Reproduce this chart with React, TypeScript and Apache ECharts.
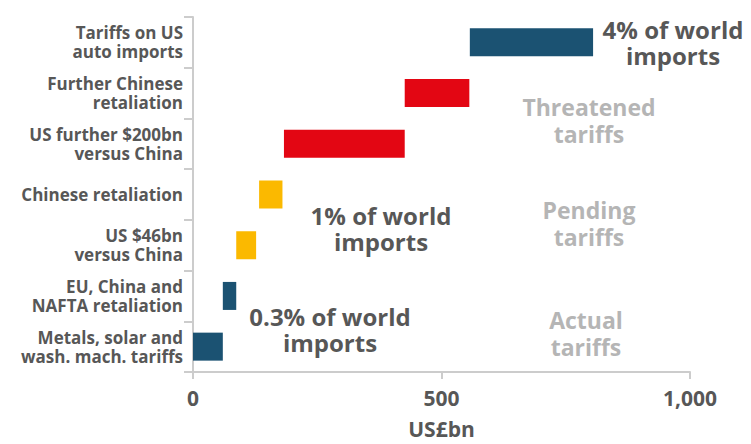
import React, { useEffect, useRef } from "react";
import * as echarts from "echarts";

const categories = [
  "Metals, solar and\nwash. mach. tariffs",
  "EU, China and\nNAFTA retaliation",
  "US $46bn\nversus China",
  "Chinese retaliation",
  "US further $200bn\nversus China",
  "Further Chinese\nretaliation",
  "Tariffs on US\nauto imports",
];
const baseValues = [0, 60, 87, 133, 183, 426, 557];
const barValues = [60, 27, 40, 47, 243, 130, 248];
const barColors = ["#1b5272", "#1b5272", "#fbb900", "#fbb900", "#e30613", "#e30613", "#1b5272"];
const xTicks = [0, 500, 1000];

const FONT = "'Open Sans', sans-serif";
const DARK = "#575757";
const LIGHT = "#b5b5b5";

export default function App() {
  const ref = useRef<HTMLDivElement>(null);
  useEffect(() => {
    if (!ref.current) return;
    const chart = echarts.init(ref.current, null, { renderer: "svg" });
    const line = (x: number, y: number, text: string, color: string, size: number) => ({
      type: "text",
      x,
      y,
      style: {
        text,
        fill: color,
        font: `bold ${size}px ${FONT}`,
        align: "center",
        verticalAlign: "middle",
      },
    });
    const two = (x: number, y: number, a: string, b: string, color: string, size: number, gap: number) => [
      line(x, y - gap / 2, a, color, size),
      line(x, y + gap / 2, b, color, size),
    ];
    chart.setOption({
      animation: false,
      grid: { left: 193, right: 61, top: 17, bottom: 69 },
      xAxis: {
        type: "value",
        min: 0,
        max: 1000,
        interval: 500,
        name: "US£bn",
        nameLocation: "middle",
        nameGap: 46,
        nameTextStyle: { color: DARK, fontFamily: "Open Sans", fontWeight: "bold", fontSize: 21 },
        axisLine: { show: true, lineStyle: { color: "#cccccc", width: 2 } },
        axisTick: { show: true, length: 7, lineStyle: { color: "#cccccc", width: 2 } },
        splitLine: { show: false },
        axisLabel: {
          color: DARK,
          fontFamily: "Open Sans",
          fontWeight: "bold",
          fontSize: 21,
          margin: 15,
          formatter: (v: number) => (xTicks.includes(v) ? v.toLocaleString("en-US") : ""),
        },
      },
      yAxis: {
        type: "category",
        data: categories,
        axisLine: { show: true, lineStyle: { color: "#cccccc", width: 2 } },
        axisTick: { show: true, length: 9, lineStyle: { color: "#cccccc", width: 2 } },
        axisLabel: {
          color: DARK,
          fontFamily: "Open Sans",
          fontWeight: "bold",
          fontSize: 17,
          lineHeight: 19,
          margin: 10,
          align: "right",
        },
      },
      series: [
        {
          type: "bar",
          stack: "w",
          data: baseValues,
          itemStyle: { color: "transparent" },
          barWidth: 28,
          silent: true,
        },
        {
          type: "bar",
          stack: "w",
          barWidth: 28,
          data: barValues.map((v, i) => ({ value: v, itemStyle: { color: barColors[i] } })),
        },
      ],
      graphic: [
        ...two(673, 42, "4% of world", "imports", DARK, 24, 26),
        ...two(589, 120, "Threatened", "tariffs", LIGHT, 23, 27),
        ...two(589, 223, "Pending", "tariffs", LIGHT, 23, 27),
        ...two(381, 228, "1% of world", "imports", DARK, 24, 26),
        ...two(586, 333, "Actual", "tariffs", LIGHT, 23, 27),
        ...two(330, 329, "0.3% of world", "imports", DARK, 24, 26),
      ],
    });
    return () => chart.dispose();
  }, []);
  return <div ref={ref} style={{ width: 751, height: 444, position: "absolute", left: 0, top: 0 }} />;
}
